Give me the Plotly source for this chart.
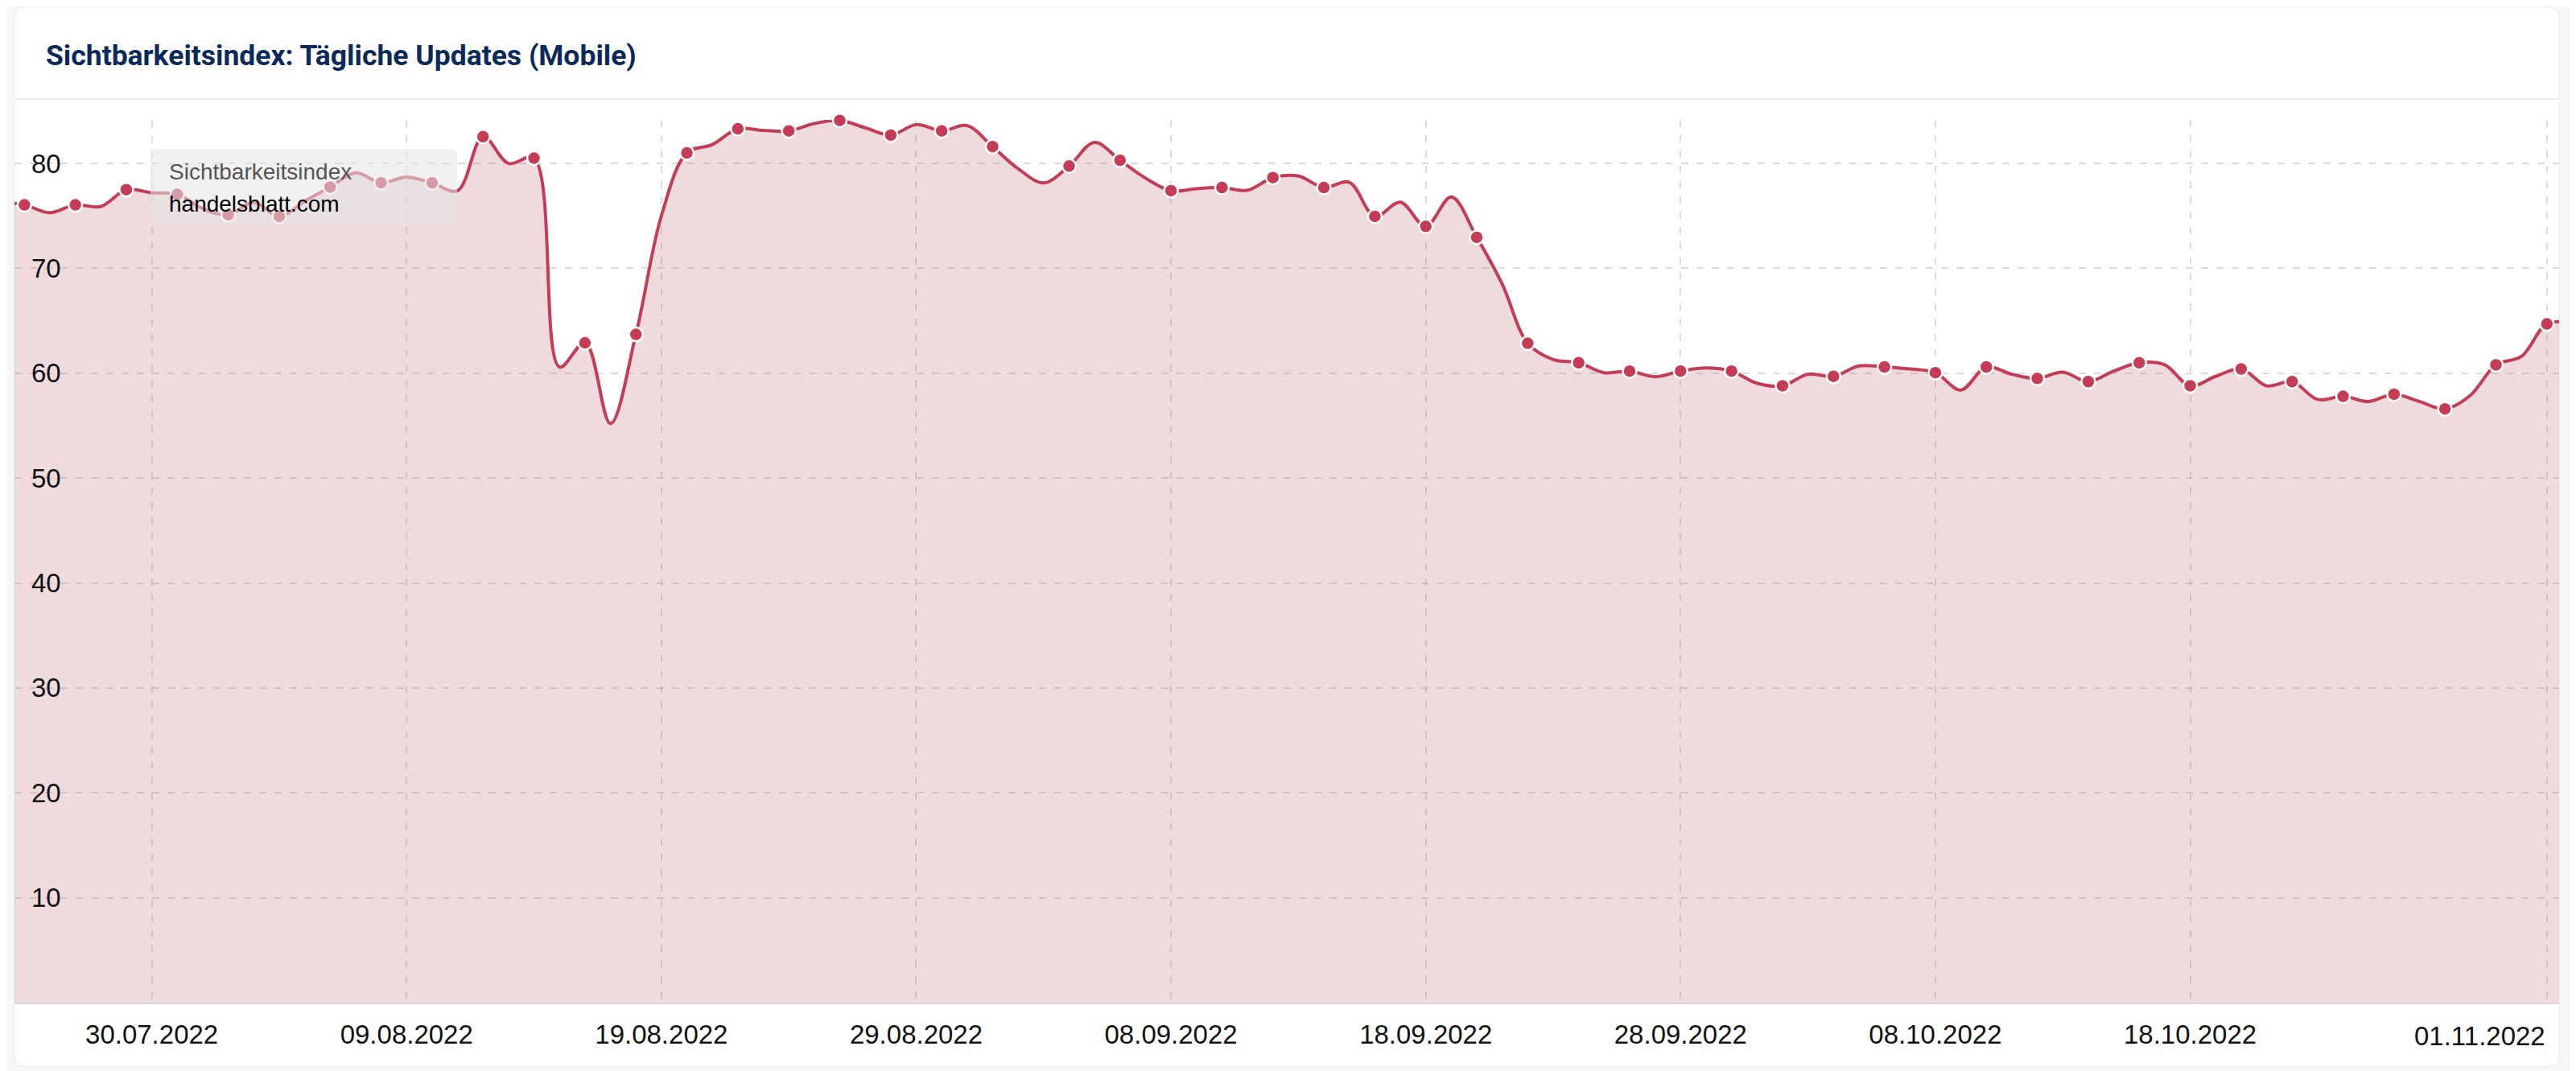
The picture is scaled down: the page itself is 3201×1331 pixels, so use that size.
import plotly.graph_objects as go

# daily values (last point lies just outside the visible range)
dates = ['2022-07-24', '2022-07-25', '2022-07-26', '2022-07-27', '2022-07-28', '2022-07-29',
         '2022-07-30', '2022-07-31', '2022-08-01', '2022-08-02', '2022-08-03', '2022-08-04',
         '2022-08-05', '2022-08-06', '2022-08-07', '2022-08-08', '2022-08-09', '2022-08-10',
         '2022-08-11', '2022-08-12', '2022-08-13', '2022-08-14', '2022-08-15', '2022-08-16',
         '2022-08-17', '2022-08-18', '2022-08-19', '2022-08-20', '2022-08-21', '2022-08-22',
         '2022-08-23', '2022-08-24', '2022-08-25', '2022-08-26', '2022-08-27', '2022-08-28',
         '2022-08-29', '2022-08-30', '2022-08-31', '2022-09-01', '2022-09-02', '2022-09-03',
         '2022-09-04', '2022-09-05', '2022-09-06', '2022-09-07', '2022-09-08', '2022-09-09',
         '2022-09-10', '2022-09-11', '2022-09-12', '2022-09-13', '2022-09-14', '2022-09-15',
         '2022-09-16', '2022-09-17', '2022-09-18', '2022-09-19', '2022-09-20', '2022-09-21',
         '2022-09-22', '2022-09-23', '2022-09-24', '2022-09-25', '2022-09-26', '2022-09-27',
         '2022-09-28', '2022-09-29', '2022-09-30', '2022-10-01', '2022-10-02', '2022-10-03',
         '2022-10-04', '2022-10-05', '2022-10-06', '2022-10-07', '2022-10-08', '2022-10-09',
         '2022-10-10', '2022-10-11', '2022-10-12', '2022-10-13', '2022-10-14', '2022-10-15',
         '2022-10-16', '2022-10-17', '2022-10-18', '2022-10-19', '2022-10-20', '2022-10-21',
         '2022-10-22', '2022-10-23', '2022-10-24', '2022-10-25', '2022-10-26', '2022-10-27',
         '2022-10-28', '2022-10-29', '2022-10-30', '2022-10-31', '2022-11-01', '2022-11-02']

values = [76.3, 76.05, 75.3, 76.05, 75.9, 77.5,
          77.2, 77.05, 75.7, 75.1, 76.3, 74.95,
          76.4, 77.75, 79.1, 78.15, 78.7, 78.15,
          77.4, 82.55, 80.0, 80.5, 60.6, 62.9,
          55.2, 63.7, 75.0, 81.0, 81.8, 83.3,
          83.15, 83.1, 83.8, 84.1, 83.4, 82.7,
          83.7, 83.1, 83.6, 81.6, 79.5, 78.15,
          79.75, 82.0, 80.3, 78.6, 77.4, 77.6,
          77.7, 77.44, 78.65, 78.8, 77.7, 78.2,
          74.95, 76.3, 74.0, 76.8, 72.96, 68.5,
          62.86, 61.3, 61.0, 60.05, 60.2, 59.67,
          60.2, 60.5, 60.2, 59.05, 58.8, 59.9,
          59.7, 60.7, 60.6, 60.4, 60.05, 58.4,
          60.6, 59.9, 59.5, 60.1, 59.2, 60.2,
          61.0, 60.8, 58.8, 59.7, 60.4, 58.8,
          59.2, 57.5, 57.8, 57.3, 58.0, 57.3,
          56.6, 57.9, 60.8, 61.6, 64.7, 64.8]

# which days carry a visible point marker
marked = [0, 1, 0, 1, 0, 1,
          0, 1, 0, 1, 0, 1,
          0, 1, 0, 1, 0, 1,
          0, 1, 0, 1, 0, 1,
          0, 1, 0, 1, 0, 1,
          0, 1, 0, 1, 0, 1,
          0, 1, 0, 1, 0, 0,
          1, 0, 1, 0, 1, 0,
          1, 0, 1, 0, 1, 0,
          1, 0, 1, 0, 1, 0,
          1, 0, 1, 0, 1, 0,
          1, 0, 1, 0, 1, 0,
          1, 0, 1, 0, 1, 0,
          1, 0, 1, 0, 1, 0,
          1, 0, 1, 0, 1, 0,
          1, 0, 1, 0, 1, 0,
          1, 0, 1, 0, 1, 0]

tick_dates = ['2022-07-30', '2022-08-09', '2022-08-19', '2022-08-29', '2022-09-08',
              '2022-09-18', '2022-09-28', '2022-10-08', '2022-10-18', '2022-11-01']
tick_text = ['30.07.2022', '09.08.2022', '19.08.2022', '29.08.2022', '08.09.2022',
             '18.09.2022', '28.09.2022', '08.10.2022', '18.10.2022', '01.11.2022']
y_ticks = [10, 20, 30, 40, 50, 60, 70, 80]

# the page body adds an 8px margin, so the figure starts at (8, 8) of the window
OFF = 8
W, H = 3201 - OFF, 1331 - OFF
ML, MR, MT, MB = 18 - OFF, 21, 149 - OFF, 85
RED = '#c43c55'
TICKFONT = dict(family='Arial, Liberation Sans', size=33, color='#111')


def px(x):
    # window pixel -> paper (plot-area) fraction
    return (x - OFF - ML) / (W - ML - MR)


def py(y):
    return (H - MB - (y - OFF)) / (H - MT - MB)


def rounded_rect(x0, y0, x1, y1, r):
    rx, ry = r / (W - ML - MR), r / (H - MT - MB)
    a, b, c, d = px(x0), py(y1), px(x1), py(y0)
    return (f'M{a + rx},{b} L{c - rx},{b} Q{c},{b} {c},{b + ry} '
            f'L{c},{d - ry} Q{c},{d} {c - rx},{d} L{a + rx},{d} '
            f'Q{a},{d} {a},{d - ry} L{a},{b + ry} Q{a},{b} {a + rx},{b} Z')


fig = go.Figure()
fig.add_trace(go.Scatter(
    x=dates, y=values, mode='lines+markers',
    line=dict(color=RED, width=4, shape='spline', smoothing=1),
    fill='tozeroy', fillcolor='rgba(191,111,123,0.25)',
    # size given per point -> plotly would fade it like a bubble chart, so force opacity
    marker=dict(color=RED, opacity=1, size=[17 if m else 0 for m in marked],
                line=dict(color='white', width=[2.5 if m else 0 for m in marked])),
    cliponaxis=False, showlegend=False, hoverinfo='x+y'))

grid = dict(showgrid=True, gridcolor='rgba(200,200,200,0.65)', gridwidth=2,
            griddash='9px,10px', automargin=False)

# last label sits flush right against its tick (added as annotation below)
fig.update_xaxes(type='date', range=['2022-07-24 14:40', '2022-11-01 11:30'],
                 tickvals=tick_dates, ticktext=tick_text[:-1] + [''], ticks='',
                 tickfont=TICKFONT, showline=True, linecolor='#ddd3d5', linewidth=2,
                 zeroline=False, ticklabelstandoff=9, **grid)
fig.update_yaxes(range=[0, 84.15], tickvals=y_ticks, ticks='',
                 ticklabelposition='inside', ticklabelstandoff=18,
                 tickfont=TICKFONT, zeroline=False, showline=False, **grid)

shapes = [
    # white card
    dict(type='path', xref='paper', yref='paper', layer='below',
         path=rounded_rect(18, 9, 3180, 1325, 12), fillcolor='white',
         line=dict(color='#ebebeb', width=1)),
    # header separator
    dict(type='line', xref='paper', yref='paper', layer='below',
         x0=px(18), x1=px(3180), y0=py(123), y1=py(123),
         line=dict(color='#ececec', width=2)),
    # legend box
    dict(type='path', xref='paper', yref='paper', layer='above',
         path=rounded_rect(187, 185, 568, 281, 10),
         fillcolor='rgba(229,229,229,0.57)', line=dict(width=0)),
]

annotations = [
    dict(text='<b>Sichtbarkeitsindex: Tägliche Updates (Mobile)</b>', xref='paper', yref='paper',
         x=px(55), y=py(69), xanchor='left', yanchor='middle', showarrow=False,
         font=dict(family='Roboto', size=35.5, color='#0b2a5b')),
    dict(text='Sichtbarkeitsindex', xref='paper', yref='paper',
         x=px(208), y=py(213), xanchor='left', yanchor='middle', showarrow=False,
         font=dict(family='Arial, Liberation Sans', size=28, color='#555')),
    dict(text='handelsblatt.com', xref='paper', yref='paper',
         x=px(208), y=py(253), xanchor='left', yanchor='middle', showarrow=False,
         font=dict(family='Arial, Liberation Sans', size=28, color='#000')),
    dict(text=tick_text[-1], xref='x', yref='paper', x=tick_dates[-1], y=py(1287),
         xanchor='right', yanchor='middle', showarrow=False, font=TICKFONT),
]

fig.update_layout(width=W, height=H, margin=dict(l=ML, r=MR, t=MT, b=MB, pad=0),
                  paper_bgcolor='#f6f6f6', plot_bgcolor='white',
                  shapes=shapes, annotations=annotations)

fig.write_html('out.html')
